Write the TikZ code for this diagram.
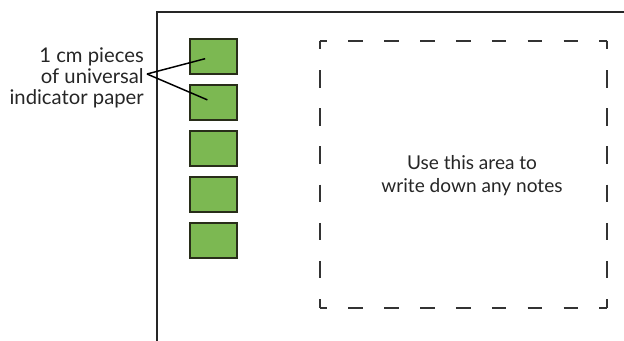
\documentclass[tikz,border=0pt]{standalone}
\usepackage{fontspec}
\setmainfont{Lato}
\definecolor{paperfill}{RGB}{124,184,82}
\definecolor{paperedge}{RGB}{40,45,25}
\begin{document}
\begin{tikzpicture}[x=0.75pt,y=-0.75pt,
  paper/.style={draw=paperedge, line width=1.5pt, fill=paperfill,
    minimum width=35.25pt, minimum height=26.25pt, inner sep=0pt},
  txt/.style={font=\fontsize{15.2}{15.8}\selectfont, inner sep=0pt, text=black!85},
  frameline/.style={line width=1.3pt, black!85},
  leader/.style={line width=1.1pt, black},
  hdash/.style={line width=1.4pt, black!80, dash pattern=on 11pt off 15.906pt, dash phase=5.5pt},
  vdash/.style={line width=1.4pt, black!80, dash pattern=on 13pt off 15.607pt, dash phase=6.5pt}]
\useasboundingbox (0,0) rectangle (624,341);
% frame
\coordinate (fb) at (157,341);
\coordinate (ftl) at (157,12);
\coordinate (fr) at (624,12);
\draw[frameline] (fb) -- (ftl) -- (fr);
% indicator papers
\foreach \i/\y in {1/56.5,2/102.5,3/148.5,4/194.5,5/240.5}
  \node[paper] (sq\i) at (213.5,\y) {};
% label
\node[txt, align=right, anchor=east] (label) at (144,78)
  {1 cm pieces\\of universal\\indicator paper};
\coordinate (tip) at (147,74);
\draw[leader, shorten >=6.5pt] (tip) -- (sq1.center);
\draw[leader, shorten >=5pt] (tip) -- (sq2.center);
% notes area
\node[minimum width=215.25pt, minimum height=200.25pt, inner sep=0pt] (notes) at (463.5,174.5) {};
\node[txt, align=center, font=\fontsize{14.3}{17.3}\selectfont] (notestext) at (472,175.5)
  {Use this area to\\write down any notes};
\draw[hdash] (notes.north west) -- (notes.north east);
\draw[hdash] (notes.south west) -- (notes.south east);
\draw[vdash] (notes.north west) -- (notes.south west);
\draw[vdash] (notes.north east) -- (notes.south east);
\end{tikzpicture}
\end{document}
